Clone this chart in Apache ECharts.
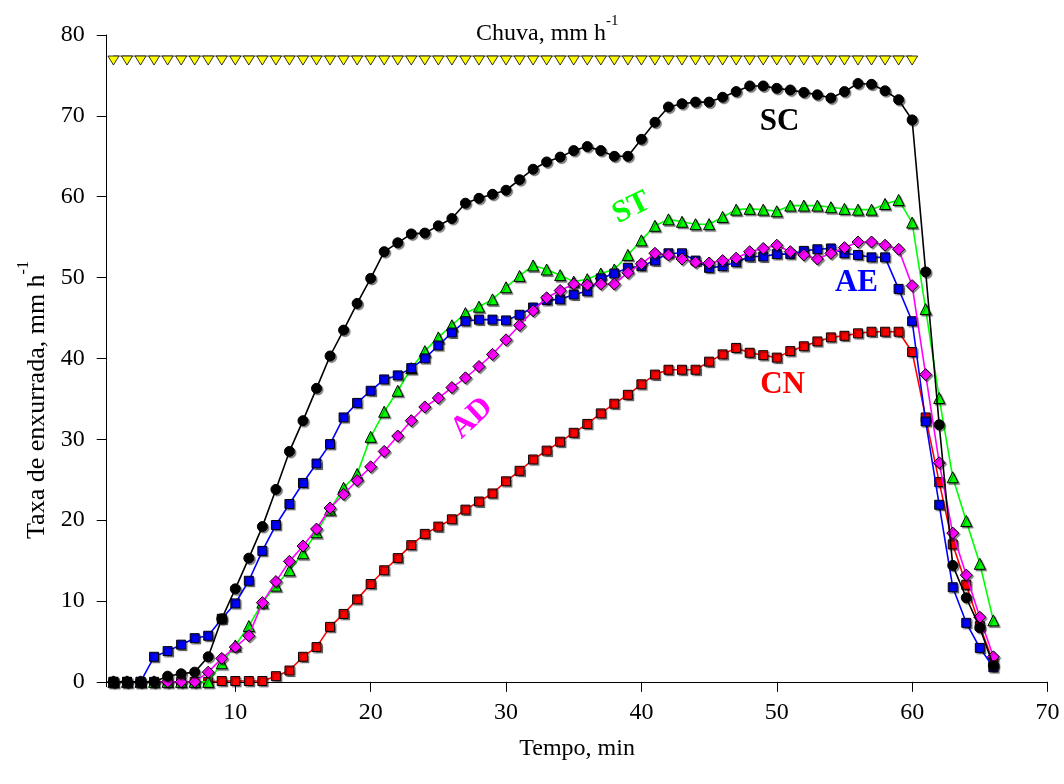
<!DOCTYPE html>
<html>
<head>
<meta charset="utf-8">
<script src="https://cdn.jsdelivr.net/npm/echarts@6/dist/echarts.min.js"></script>
<style>
  html, body { margin: 0; padding: 0; background: #ffffff; }
  #chart { width: 1064px; height: 784px; }
</style>
</head>
<body>
<div id="chart"></div>
<script>
// Time after start of simulated rainfall (min)
const minutes = [1, 2, 3, 4, 5, 6, 7, 8, 9, 10, 11, 12, 13, 14, 15, 16, 17, 18, 19, 20,
  21, 22, 23, 24, 25, 26, 27, 28, 29, 30, 31, 32, 33, 34, 35, 36, 37, 38, 39, 40,
  41, 42, 43, 44, 45, 46, 47, 48, 49, 50, 51, 52, 53, 54, 55, 56, 57, 58, 59, 60,
  61, 62, 63, 64, 65, 66];

// Rainfall intensity applied during the first 60 minutes (mm h-1)
const rainMinutes = [1, 2, 3, 4, 5, 6, 7, 8, 9, 10, 11, 12, 13, 14, 15, 16, 17, 18, 19, 20,
  21, 22, 23, 24, 25, 26, 27, 28, 29, 30, 31, 32, 33, 34, 35, 36, 37, 38, 39, 40,
  41, 42, 43, 44, 45, 46, 47, 48, 49, 50, 51, 52, 53, 54, 55, 56, 57, 58, 59, 60];
const rain = [77.4, 77.4, 77.4, 77.4, 77.4, 77.4, 77.4, 77.4, 77.4, 77.4, 77.4, 77.4, 77.4, 77.4, 77.4,
  77.4, 77.4, 77.4, 77.4, 77.4, 77.4, 77.4, 77.4, 77.4, 77.4, 77.4, 77.4, 77.4, 77.4, 77.4,
  77.4, 77.4, 77.4, 77.4, 77.4, 77.4, 77.4, 77.4, 77.4, 77.4, 77.4, 77.4, 77.4, 77.4, 77.4,
  77.4, 77.4, 77.4, 77.4, 77.4, 77.4, 77.4, 77.4, 77.4, 77.4, 77.4, 77.4, 77.4, 77.4, 77.4];

// Runoff rate per treatment (mm h-1)
const sc = [0, 0, 0, 0, 0.7, 1.0, 1.2, 3.1, 7.8, 11.5, 15.3, 19.2, 23.8, 28.5, 32.3, 36.3, 40.3, 43.5, 46.8, 49.9,
  53.2, 54.3, 55.4, 55.5, 56.4, 57.3, 59.2, 59.8, 60.3, 60.8, 62.1, 63.4, 64.3, 64.9, 65.7, 66.2, 65.7, 65.0, 65.0, 67.1,
  69.2, 71.1, 71.5, 71.7, 71.7, 72.3, 73.0, 73.7, 73.7, 73.4, 73.2, 72.9, 72.6, 72.2, 73.0, 74.0, 73.9, 73.1, 72.0, 69.5,
  50.7, 31.8, 14.4, 10.4, 6.7, 2.0];
const st = [0, 0, 0, 0, 0, 0, 0, 0, 2.3, 4.5, 6.9, 9.8, 11.9, 13.8, 15.9, 18.5, 21.3, 24.0, 25.7, 30.3,
  33.4, 36.0, 38.8, 40.9, 42.6, 44.1, 45.6, 46.4, 47.3, 48.8, 50.2, 51.5, 51.0, 50.3, 49.5, 49.8, 50.5, 51.0, 52.8, 54.6,
  56.4, 57.2, 56.9, 56.6, 56.6, 57.5, 58.4, 58.5, 58.4, 58.2, 58.9, 58.9, 58.9, 58.7, 58.5, 58.4, 58.4, 59.1, 59.6, 56.8,
  46.1, 35.1, 25.3, 19.9, 14.6, 7.6];
const ae = [0, 0, 0, 3.1, 3.8, 4.6, 5.4, 5.7, 7.8, 9.7, 12.5, 16.2, 19.4, 22.0, 24.6, 27.0, 29.4, 32.7, 34.5, 36.0,
  37.4, 37.9, 38.8, 40.0, 41.6, 43.2, 44.6, 44.8, 44.8, 44.7, 45.4, 46.3, 47.2, 47.3, 47.9, 48.3, 49.9, 50.5, 51.2, 51.4,
  52.1, 53.0, 53.0, 52.1, 51.2, 51.4, 51.9, 52.6, 52.6, 52.9, 52.9, 53.3, 53.5, 53.6, 53.0, 52.8, 52.5, 52.5, 48.6, 44.6,
  32.2, 21.9, 11.7, 7.3, 4.2, 1.8];
const ad = [0, 0, 0, 0, 0, 0, 0, 1.2, 2.9, 4.3, 5.7, 9.8, 12.4, 14.9, 16.8, 18.9, 21.5, 23.2, 24.9, 26.6,
  28.5, 30.4, 32.3, 34.0, 35.1, 36.4, 37.6, 39.0, 40.5, 42.3, 44.1, 45.9, 47.5, 48.4, 49.2, 49.1, 49.2, 49.2, 50.6, 51.7,
  53.0, 52.8, 52.3, 51.9, 51.8, 52.1, 52.4, 53.2, 53.6, 54.0, 53.2, 52.8, 52.3, 53.0, 53.7, 54.4, 54.4, 54.0, 53.5, 49.0,
  38.0, 27.1, 18.4, 13.2, 8.0, 3.1];
const cn = [0, 0, 0, 0, 0, 0, 0, 0, 0.1, 0.1, 0.1, 0.1, 0.7, 1.4, 3.1, 4.3, 6.8, 8.4, 10.2, 12.1,
  13.8, 15.3, 16.9, 18.3, 19.2, 20.1, 21.3, 22.3, 23.3, 24.8, 26.1, 27.5, 28.6, 29.7, 30.8, 31.9, 33.2, 34.4, 35.5, 36.8,
  38.0, 38.6, 38.6, 38.6, 39.6, 40.5, 41.3, 40.7, 40.4, 40.1, 40.9, 41.5, 42.1, 42.6, 42.8, 43.1, 43.3, 43.3, 43.3, 40.8,
  32.7, 24.7, 17.0, 12.0, 6.9, 2.4];

// Axis tick labels
const xTicks = [10, 20, 30, 40, 50, 60, 70];
const yTicks = [0, 10, 20, 30, 40, 50, 60, 70, 80];

const serif = '"Liberation Serif", "Times New Roman", serif';

function pairs(xs, ys) {
  return xs.map((x, i) => [x, ys[i]]);
}

// Bold treatment name placed next to its curve
function treatmentLabel(name, coord, color, rotate) {
  return {
    silent: true,
    symbol: 'circle',
    symbolSize: 0,
    animation: false,
    data: [{ coord: coord }],
    label: {
      show: true,
      position: 'inside',
      formatter: name,
      color: color,
      fontFamily: serif,
      fontWeight: 'bold',
      fontSize: 31,
      rotate: rotate || 0
    }
  };
}

const markerShadow = {
  shadowColor: 'rgba(0,0,0,0.45)',
  shadowBlur: 1,
  shadowOffsetX: 1.5,
  shadowOffsetY: 1.5
};

function runoffSeries(name, values, color, symbol, size, label, z) {
  return {
    name: name,
    type: 'line',
    data: pairs(minutes, values),
    symbol: symbol,
    symbolSize: size,
    z: z,
    lineStyle: { color: color, width: 1.6 },
    itemStyle: Object.assign({ color: color, borderColor: '#000', borderWidth: 1 }, markerShadow),
    markPoint: label
  };
}

// Text with a "-1" superscript on the unit
function superRich(size) {
  return {
    b: { fontFamily: serif, fontSize: size, fontWeight: 'normal', color: '#000', lineHeight: size + 8, verticalAlign: 'bottom' },
    s: { fontFamily: serif, fontSize: Math.round(size * 0.62), fontWeight: 'normal', color: '#000', lineHeight: Math.round(size * 0.62), verticalAlign: 'top' }
  };
}

const chart = echarts.init(document.getElementById('chart'), null, { renderer: 'canvas' });

chart.setOption({
  animation: false,
  backgroundColor: '#ffffff',
  title: {
    text: '{b|Chuva, mm h}{s|-1}',
    left: 471,
    top: 9,
    textStyle: { fontWeight: 'normal', rich: superRich(24) }
  },
  graphic: [{
    type: 'text',
    x: 33,
    y: 400,
    rotation: Math.PI / 2,
    style: {
      text: '{b|Taxa de enxurrada, mm h}{s|-1}',
      rich: superRich(26),
      align: 'center',
      verticalAlign: 'middle'
    }
  }],
  grid: {
    left: 106.7,
    right: 16.5,
    top: 35,
    bottom: 97.3,
    outerBoundsMode: 'none'
  },
  xAxis: {
    type: 'value',
    min: 0.5,
    max: 70,
    name: 'Tempo, min',
    nameLocation: 'middle',
    nameGap: 50,
    nameTextStyle: { fontFamily: serif, fontSize: 24, color: '#000' },
    axisLine: { show: true, lineStyle: { color: '#000', width: 1 } },
    axisTick: { show: true, inside: false, length: 10, customValues: xTicks, lineStyle: { color: '#000' } },
    axisLabel: { customValues: xTicks, fontFamily: serif, fontSize: 24, color: '#000', margin: 14 },
    splitLine: { show: false }
  },
  yAxis: {
    type: 'value',
    min: -0.6,
    max: 80,
    axisLine: { show: true, lineStyle: { color: '#000', width: 1 } },
    axisTick: { show: true, inside: false, length: 10, customValues: yTicks, lineStyle: { color: '#000' } },
    axisLabel: { customValues: yTicks, fontFamily: serif, fontSize: 24, color: '#000', margin: 22 },
    splitLine: { show: false }
  },
  series: [
    {
      name: 'Chuva',
      type: 'line',
      data: pairs(rainMinutes, rain),
      symbol: 'triangle',
      symbolRotate: 180,
      symbolSize: [11, 9],
      symbolOffset: [0, 4.5],
      z: 2,
      lineStyle: { color: '#555', width: 1 },
      itemStyle: { color: '#ffff00', borderColor: '#000', borderWidth: 0.8 }
    },
    runoffSeries('CN', cn, '#ff0000', 'rect', 9,
      treatmentLabel('CN', [50.43, 36.7], '#ff0000'), 3),
    runoffSeries('ST', st, '#00ff00', 'triangle', 11,
      treatmentLabel('ST', [39.27, 58.6], '#00ff00', 26), 4),
    runoffSeries('AE', ae, '#0000ff', 'rect', 9,
      treatmentLabel('AE', [55.89, 49.3], '#0000ff'), 5),
    runoffSeries('AD', ad, '#ff00ff', 'diamond', 12,
      treatmentLabel('AD', [27.49, 32.6], '#ff00ff', 43), 6),
    runoffSeries('SC', sc, '#000000', 'circle', 10,
      treatmentLabel('SC', [50.2, 69.2], '#000000'), 7)
  ]
});
</script>
</body>
</html>
